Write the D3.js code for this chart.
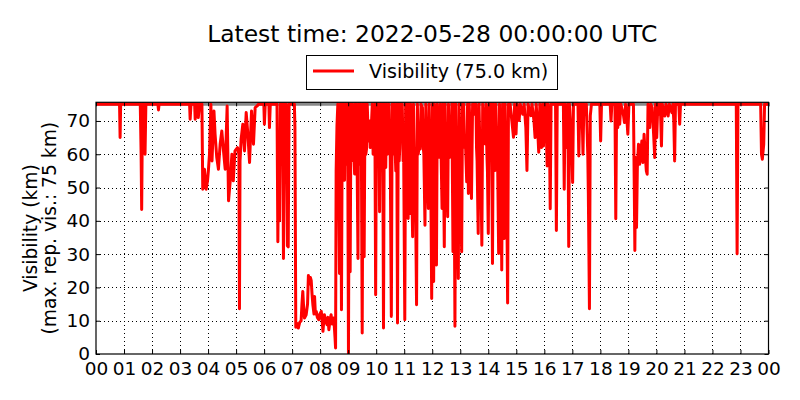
<!DOCTYPE html>
<html>
<head>
<meta charset="utf-8">
<script src="https://cdn.jsdelivr.net/npm/d3@7"></script>
<style>
  body { margin: 0; background: #fff; }
  text { font-family: "DejaVu Sans", sans-serif; fill: #000; }
</style>
</head>
<body>
<div id="container"></div>
<script>
const WIDTH = 800;
const HEIGHT = 400;

const TITLE = "Latest time: 2022-05-28 00:00:00 UTC";
const SERIES_NAME = "Visibility (75.0 km)";
const Y_LABEL = ["Visibility (km)", "(max. rep. vis.: 75 km)"];
const MAX_VIS = 75;

const hourTicks = d3.range(0, 25);
const visTicks = [0, 10, 20, 30, 40, 50, 60, 70];

// [hour of day, visibility km]
const visNight = [
  [0.00, 75], [0.84, 75], [0.86, 65], [0.88, 75],
  [1.58, 75], [1.61, 60], [1.63, 43.4], [1.66, 75], [1.72, 75], [1.75, 60], [1.78, 75],
  [2.21, 75], [2.23, 73.3], [2.25, 75],
  [3.34, 75], [3.36, 70.5], [3.39, 75], [3.52, 75], [3.54, 70.5], [3.57, 75],
  [3.63, 75], [3.65, 71], [3.70, 75],
  [3.78, 75], [3.81, 49.5], [3.87, 55.5], [3.93, 49.5], [3.98, 52], [4.01, 55], [4.05, 60],
  [4.10, 75], [4.14, 58], [4.21, 73], [4.25, 66], [4.31, 59], [4.37, 55.5], [4.43, 63],
  [4.49, 67], [4.55, 61], [4.61, 55.5], [4.68, 74.5], [4.73, 46], [4.79, 52], [4.85, 60],
  [4.90, 52], [4.96, 61], [5.05, 62], [5.10, 60], [5.12, 13.6], [5.14, 58], [5.18, 64.5],
  [5.24, 69], [5.30, 61], [5.36, 72.5], [5.42, 66], [5.48, 57.5], [5.55, 73], [5.62, 63],
  [5.68, 74], [5.75, 74.5], [5.80, 75],
  [5.99, 75], [6.01, 69], [6.04, 75], [6.17, 75], [6.19, 68], [6.22, 75],
  [6.46, 75], [6.49, 33.7], [6.52, 60], [6.55, 40], [6.58, 75], [6.62, 62], [6.66, 75],
  [6.69, 28.7], [6.72, 75], [6.76, 55], [6.79, 75], [6.83, 32.5], [6.86, 32.2], [6.89, 75],
  [7.08, 75]
];

const visMorningLow = [
  [7.10, 68], [7.13, 8], [7.17, 9.2], [7.22, 7.8], [7.27, 9.5], [7.32, 10], [7.35, 15],
  [7.38, 18.8], [7.41, 14], [7.44, 10.8], [7.50, 11.8], [7.55, 15], [7.58, 23.6], [7.62, 21],
  [7.65, 23], [7.68, 22.1], [7.71, 18], [7.74, 14.8], [7.78, 12], [7.80, 17.3], [7.83, 12],
  [7.86, 12.8], [7.90, 11], [7.95, 10.3], [7.99, 12], [8.04, 12.8], [8.08, 9], [8.10, 6.8],
  [8.13, 10], [8.15, 11.8], [8.20, 10], [8.24, 8.8], [8.28, 11], [8.31, 7.3], [8.35, 10],
  [8.39, 11.8], [8.43, 9], [8.48, 10.8], [8.50, 9], [8.53, 5], [8.55, 1.8]
];

const visDay = [
  [8.57, 55], [8.60, 68.6], [8.63, 75], [8.66, 52], [8.69, 24.2], [8.72, 75], [8.74, 58],
  [8.76, 13.3], [8.79, 75], [8.81, 66], [8.83, 60], [8.85, 75], [8.87, 52.2], [8.89, 70],
  [8.91, 75], [8.93, 57], [8.95, 62], [8.98, 75], [9.01, 0.3], [9.04, 75], [9.07, 24.7],
  [9.10, 75], [9.12, 58], [9.14, 61.6], [9.16, 75], [9.19, 63], [9.23, 54.1], [9.25, 75],
  [9.27, 60], [9.29, 75], [9.31, 65], [9.35, 28.7], [9.37, 75], [9.40, 57], [9.43, 60],
  [9.45, 75], [9.47, 64], [9.50, 6.3], [9.53, 75], [9.57, 29.2], [9.60, 75], [9.63, 60],
  [9.66, 62], [9.68, 75], [9.72, 64], [9.76, 70], [9.79, 62], [9.82, 67.1], [9.86, 75],
  [9.89, 60], [9.91, 66], [9.95, 75], [9.98, 17.8], [10.01, 75], [10.04, 62], [10.06, 58],
  [10.09, 75], [10.12, 42.7], [10.15, 75], [10.18, 64], [10.20, 60], [10.23, 75], [10.26, 7.8],
  [10.29, 75], [10.32, 62], [10.34, 56], [10.37, 75], [10.40, 60], [10.42, 65], [10.45, 75],
  [10.48, 62], [10.50, 60], [10.54, 11.3], [10.57, 75], [10.60, 63], [10.62, 60.1], [10.65, 75],
  [10.68, 60], [10.70, 55], [10.73, 75], [10.76, 9.3], [10.79, 75], [10.82, 58], [10.84, 62],
  [10.87, 75], [10.90, 66.1], [10.93, 75], [10.96, 58], [10.98, 60], [11.02, 10.3], [11.05, 75],
  [11.08, 43], [11.11, 75], [11.14, 40.7], [11.17, 75], [11.20, 42.2], [11.23, 75], [11.25, 60],
  [11.27, 50], [11.30, 35.2], [11.33, 75], [11.36, 60], [11.39, 58], [11.44, 14.8], [11.47, 75],
  [11.50, 60], [11.52, 62], [11.57, 61.6], [11.60, 75], [11.65, 74], [11.68, 62], [11.70, 60],
  [11.74, 38.7], [11.77, 75], [11.80, 62], [11.82, 55], [11.86, 43.7], [11.89, 75], [11.92, 62],
  [11.94, 60], [11.98, 16.7], [12.01, 75], [12.05, 21.8], [12.08, 75], [12.11, 50], [12.15, 26.7],
  [12.18, 75], [12.20, 60], [12.22, 62], [12.26, 59.1], [12.29, 75], [12.32, 58], [12.35, 43.7],
  [12.38, 75], [12.43, 32.2], [12.46, 75], [12.48, 60], [12.50, 58], [12.55, 41.2], [12.58, 75],
  [12.61, 59], [12.63, 62], [12.67, 60], [12.70, 75], [12.74, 30.7], [12.77, 75], [12.81, 8.3],
  [12.84, 75], [12.86, 60], [12.88, 58], [12.93, 22.7], [12.96, 75], [12.99, 62], [13.01, 50],
  [13.05, 30.7], [13.08, 75], [13.12, 75], [13.15, 62], [13.18, 65], [13.23, 51.7], [13.26, 75],
  [13.29, 48.2], [13.32, 75], [13.36, 64], [13.40, 46.7], [13.44, 75], [13.48, 75], [13.52, 72],
  [13.56, 75], [13.58, 62], [13.60, 58], [13.64, 36.2], [13.67, 75], [13.70, 62], [13.73, 60],
  [13.77, 32.7], [13.80, 75], [13.85, 70], [13.89, 63.1], [13.92, 75], [13.95, 60], [13.97, 55],
  [14.00, 36.2], [14.03, 75], [14.06, 62], [14.08, 60], [14.11, 75], [14.15, 27.2], [14.18, 75],
  [14.21, 62], [14.24, 55.1], [14.27, 75], [14.30, 64], [14.33, 60], [14.37, 30.2], [14.40, 75],
  [14.43, 60], [14.45, 62], [14.48, 25.2], [14.51, 75], [14.54, 58], [14.57, 34.7], [14.60, 75],
  [14.63, 60], [14.65, 58], [14.69, 15.3], [14.72, 75], [14.78, 75], [14.84, 70], [14.90, 65.1],
  [14.94, 75], [14.99, 66.1], [15.03, 75], [15.10, 70.1], [15.14, 75], [15.23, 72], [15.28, 75],
  [15.34, 68], [15.38, 55.1], [15.42, 75], [15.52, 71.6], [15.56, 75], [15.63, 70], [15.67, 65],
  [15.71, 75], [15.76, 68], [15.80, 60.6], [15.84, 75], [15.90, 62], [15.94, 75], [15.97, 62.5],
  [16.01, 75]
];

const visEvening = [
  [16.05, 75], [16.10, 56.5], [16.13, 75], [16.19, 60], [16.21, 43.6], [16.24, 75],
  [16.40, 75], [16.43, 37.1], [16.46, 75], [16.68, 75], [16.71, 49.5], [16.74, 75],
  [16.80, 62], [16.84, 75], [16.87, 32.3], [16.90, 75], [16.98, 62], [17.01, 51.5], [17.04, 75],
  [17.20, 75], [17.23, 59.5], [17.27, 75], [17.30, 72.5], [17.34, 75], [17.38, 60], [17.41, 75],
  [17.45, 72], [17.50, 75], [17.55, 60], [17.57, 48.5], [17.61, 13.6], [17.64, 71.5], [17.68, 75],
  [17.98, 75], [18.01, 64], [18.04, 75], [18.35, 75], [18.38, 70], [18.41, 75],
  [18.52, 75], [18.55, 40.6], [18.58, 75], [18.62, 68], [18.66, 75], [18.69, 69], [18.73, 75],
  [18.82, 72], [18.86, 69.5], [18.90, 75], [18.95, 70], [18.98, 66], [19.02, 75],
  [19.18, 75], [19.21, 50], [19.23, 31.1], [19.26, 59], [19.29, 38], [19.32, 56], [19.36, 63],
  [19.40, 57], [19.44, 60], [19.48, 64], [19.52, 57.5], [19.56, 66], [19.60, 60], [19.64, 55],
  [19.67, 54], [19.70, 75], [19.73, 70], [19.76, 68], [19.80, 75], [19.85, 74], [19.90, 66],
  [19.94, 59], [19.97, 75], [20.01, 65], [20.05, 75], [20.10, 72], [20.14, 75], [20.18, 62.5],
  [20.21, 75], [20.30, 71.5], [20.34, 75], [20.42, 71.5], [20.46, 75], [20.55, 72.5], [20.59, 75],
  [20.62, 70], [20.65, 58], [20.68, 75], [20.80, 75], [20.83, 69], [20.86, 75],
  [22.85, 75], [22.88, 30.1], [22.91, 75],
  [23.72, 75], [23.75, 60], [23.78, 58.5], [23.83, 63], [23.86, 75], [24.00, 75]
];

const visObs = visNight.concat(visMorningLow, visDay, visEvening);

// plot box
const LEFT = 96, RIGHT = 768.5, TOP = 102.3, BOTTOM = 354;

const svg = d3
  .select("div#container")
  .append("svg")
  .attr("width", WIDTH)
  .attr("height", HEIGHT)
  .style("display", "block");

const x = d3.scaleLinear().domain([0, 24]).range([LEFT, RIGHT]);
const y = d3.scaleLinear().domain([0, 75.6]).range([BOTTOM, TOP]);

const pad2 = (h) => String(h % 24).padStart(2, "0");

// dotted grid
svg
  .append("g")
  .attr("class", "grid")
  .attr("transform", `translate(0, ${BOTTOM})`)
  .call(d3.axisBottom(x).tickValues(hourTicks.slice(1, -1)).tickSize(-(BOTTOM - TOP)).tickFormat(""))
  .call((g) => g.select(".domain").remove());
svg
  .append("g")
  .attr("class", "grid")
  .attr("transform", `translate(${LEFT}, 0)`)
  .call(d3.axisLeft(y).tickValues(visTicks.slice(1)).tickSize(-(RIGHT - LEFT)).tickFormat(""))
  .call((g) => g.select(".domain").remove());
svg
  .selectAll(".grid line")
  .attr("stroke", "#000")
  .attr("stroke-width", 1)
  .attr("stroke-dasharray", "1,3")
  .attr("shape-rendering", "crispEdges");

svg
  .append("clipPath")
  .attr("id", "plot-clip")
  .append("rect")
  .attr("x", LEFT)
  .attr("y", TOP)
  .attr("width", RIGHT - LEFT)
  .attr("height", BOTTOM - TOP);

// max reportable visibility
svg
  .append("line")
  .attr("x1", x(0))
  .attr("x2", x(24))
  .attr("y1", y(MAX_VIS))
  .attr("y2", y(MAX_VIS))
  .attr("stroke", "#888")
  .attr("stroke-width", 3);

const line = d3
  .line()
  .x((d) => x(d[0]))
  .y((d) => y(d[1]));

svg
  .append("path")
  .datum(visObs)
  .attr("d", line)
  .attr("fill", "none")
  .attr("stroke", "#ff0000")
  .attr("stroke-width", 3)
  .attr("stroke-linejoin", "round")
  .attr("clip-path", "url(#plot-clip)");

// axes, ticks inward on all four sides
const xAxis = d3.axisBottom(x).tickValues(hourTicks).tickFormat(pad2).tickSizeInner(-4).tickSizeOuter(0).tickPadding(8);
const yAxis = d3.axisLeft(y).tickValues(visTicks).tickSizeInner(-4).tickSizeOuter(0).tickPadding(6);

svg.append("g").attr("transform", `translate(0, ${BOTTOM})`).attr("class", "axis").call(xAxis);
svg.append("g").attr("transform", `translate(${LEFT}, 0)`).attr("class", "axis").call(yAxis);
svg
  .append("g")
  .attr("transform", `translate(0, ${TOP})`)
  .attr("class", "axis")
  .call(d3.axisTop(x).tickValues(hourTicks).tickFormat("").tickSizeInner(-4).tickSizeOuter(0));
svg
  .append("g")
  .attr("transform", `translate(${RIGHT}, 0)`)
  .attr("class", "axis")
  .call(d3.axisRight(y).tickValues(visTicks).tickFormat("").tickSizeInner(-4).tickSizeOuter(0));

svg.selectAll(".axis .domain").remove();
svg.selectAll(".axis line").attr("stroke", "#000").attr("stroke-width", 1);
svg
  .selectAll(".axis text")
  .style("font-family", '"DejaVu Sans", sans-serif')
  .style("font-size", "18.5px")
  .attr("fill", "#000");

svg
  .append("rect")
  .attr("x", LEFT)
  .attr("y", TOP)
  .attr("width", RIGHT - LEFT)
  .attr("height", BOTTOM - TOP)
  .attr("fill", "none")
  .attr("stroke", "#000")
  .attr("stroke-width", 1.2);

// title
svg
  .append("text")
  .attr("x", (LEFT + RIGHT) / 2)
  .attr("y", 42)
  .attr("text-anchor", "middle")
  .style("font-size", "23.4px")
  .text(TITLE);

// legend
const legend = svg.append("g");
legend
  .append("rect")
  .attr("x", 306.5)
  .attr("y", 55.5)
  .attr("width", 251)
  .attr("height", 34)
  .attr("fill", "#fff")
  .attr("stroke", "#000")
  .attr("stroke-width", 1);
legend
  .append("line")
  .attr("x1", 313)
  .attr("x2", 354)
  .attr("y1", 71)
  .attr("y2", 71)
  .attr("stroke", "#ff0000")
  .attr("stroke-width", 2.8);
legend
  .append("text")
  .attr("x", 369)
  .attr("y", 78)
  .style("font-size", "19.1px")
  .text(SERIES_NAME);

// y label, two lines
svg
  .selectAll("text.ylabel")
  .data(Y_LABEL)
  .enter()
  .append("text")
  .attr("class", "ylabel")
  .attr("transform", (_, i) => `translate(${i === 0 ? 36.5 : 56}, ${(TOP + BOTTOM) / 2}) rotate(-90)`)
  .attr("text-anchor", "middle")
  .style("font-size", "18.7px")
  .text((d) => d);
</script>
</body>
</html>
